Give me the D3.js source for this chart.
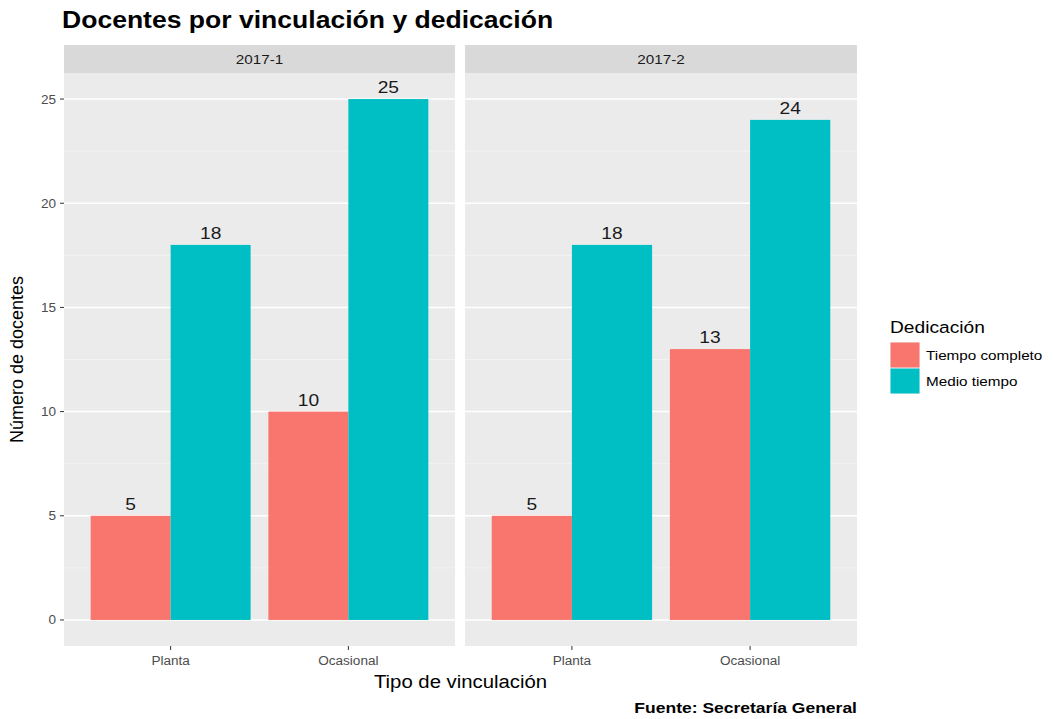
<!DOCTYPE html>
<html>
<head>
<meta charset="utf-8">
<script src="https://cdn.jsdelivr.net/npm/d3@7"></script>
<style>
  html, body { margin: 0; padding: 0; background: #fff; }
  svg { display: block; font-family: "Liberation Sans", Arial, sans-serif; }
</style>
</head>
<body>
<svg id="chart" width="1053" height="719"></svg>
<script>
// Teaching staff by contract type and workload, per semester
const periods = ["2017-1", "2017-2"];
const categories = ["Planta", "Ocasional"];
const groups = ["Tiempo completo", "Medio tiempo"];
const tiempoCompleto = [[5, 10], [5, 13]];   // [period][category]
const medioTiempo = [[18, 25], [18, 24]];
const yTicks = [0, 5, 10, 15, 20, 25];
const colors = ["#F8766D", "#00BFC4"];

const svg = d3.select("#chart");

// glyphs are drawn slightly wide
const STRETCH = 1.13;
function label(g, x, y, txt, size, opts = {}) {
  return g.append("text")
    .attr("transform", `translate(${x},${y}) scale(${STRETCH},1)`)
    .attr("text-anchor", opts.anchor || "start")
    .attr("font-size", size)
    .attr("font-weight", opts.weight || "normal")
    .attr("fill", opts.fill || "#000")
    .text(txt);
}

// layout
const panels = [{ x0: 64, x1: 455 }, { x0: 465, x1: 857 }];
const stripTop = 45, plotTop = 73, plotBottom = 646;

const y = d3.scaleLinear().domain([-1.25, 26.25]).range([plotBottom, plotTop]);
const minorTicks = [2.5, 7.5, 12.5, 17.5, 22.5];

// title
label(svg, 62, 28, "Docentes por vinculación y dedicación", 23.5, { weight: "bold" });

panels.forEach((p, pi) => {
  const g = svg.append("g");
  // panel background
  g.append("rect").attr("x", p.x0).attr("y", plotTop)
    .attr("width", p.x1 - p.x0).attr("height", plotBottom - plotTop)
    .attr("fill", "#EBEBEB");
  // strip
  g.append("rect").attr("x", p.x0).attr("y", stripTop)
    .attr("width", p.x1 - p.x0).attr("height", plotTop - stripTop)
    .attr("fill", "#D9D9D9");
  label(g, (p.x0 + p.x1) / 2, plotTop - 9, periods[pi], 13.5, { anchor: "middle", fill: "#1A1A1A" });

  // grid
  g.selectAll(".minor").data(minorTicks).join("line")
    .attr("x1", p.x0).attr("x2", p.x1)
    .attr("y1", d => y(d)).attr("y2", d => y(d))
    .attr("stroke", "#F5F5F5").attr("stroke-width", 0.8);
  g.selectAll(".major").data(yTicks).join("line")
    .attr("x1", p.x0).attr("x2", p.x1)
    .attr("y1", d => y(d)).attr("y2", d => y(d))
    .attr("stroke", "#FFFFFF").attr("stroke-width", 1.5);

  // x scale: discrete categories with ggplot-style expansion
  const xc = d3.scaleLinear().domain([0.4, 2.6]).range([p.x0, p.x1]);
  const bw = 0.9;
  const rows = [];
  categories.forEach((c, ci) => {
    const vals = [tiempoCompleto[pi][ci], medioTiempo[pi][ci]];
    vals.forEach((v, gi) => {
      const left = ci + 1 - bw / 2 + gi * bw / 2;
      rows.push({ v, gi, x0: xc(left), x1: xc(left + bw / 2) });
    });
  });

  g.selectAll(".bar").data(rows).join("rect")
    .attr("x", d => d.x0).attr("width", d => d.x1 - d.x0)
    .attr("y", d => y(d.v)).attr("height", d => y(0) - y(d.v))
    .attr("fill", d => colors[d.gi]);

  rows.forEach(d => {
    label(g, (d.x0 + d.x1) / 2, y(d.v) - 6, d.v, 17, { anchor: "middle", fill: "#1A1A1A" });
  });

  // x axis ticks and labels
  categories.forEach((c, ci) => {
    const cx = xc(ci + 1);
    g.append("line").attr("x1", cx).attr("x2", cx)
      .attr("y1", plotBottom).attr("y2", plotBottom + 4)
      .attr("stroke", "#333").attr("stroke-width", 1);
    label(g, cx, plotBottom + 19, c, 12, { anchor: "middle", fill: "#4D4D4D" });
  });
});

// y axis (left panel only)
const yAxis = svg.append("g");
yTicks.forEach(t => {
  yAxis.append("line").attr("x1", 60).attr("x2", 64)
    .attr("y1", y(t)).attr("y2", y(t)).attr("stroke", "#333").attr("stroke-width", 1);
  label(yAxis, 56, y(t) + 4.5, t, 12, { anchor: "end", fill: "#4D4D4D" });
});

// axis titles
svg.append("text")
  .attr("transform", `translate(23, ${(plotTop + plotBottom) / 2}) rotate(-90)`)
  .attr("text-anchor", "middle").attr("font-size", 18).attr("fill", "#000")
  .text("Número de docentes");
label(svg, (64 + 857) / 2, 688, "Tipo de vinculación", 18, { anchor: "middle" });

// caption
label(svg, 857, 713, "Fuente: Secretaría General", 15.5, { anchor: "end", weight: "bold" });

// legend
const lg = svg.append("g").attr("transform", "translate(890, 0)");
label(lg, 0, 333, "Dedicación", 17);
groups.forEach((name, i) => {
  const ky = 342 + i * 26;
  lg.append("rect").attr("x", 0).attr("y", ky).attr("width", 30).attr("height", 26)
    .attr("fill", "#F2F2F2");
  lg.append("rect").attr("x", 0.5).attr("y", ky + 0.5).attr("width", 29).attr("height", 25)
    .attr("fill", colors[i]);
  label(lg, 36, ky + 17.5, name, 13.5);
});
</script>
</body>
</html>
